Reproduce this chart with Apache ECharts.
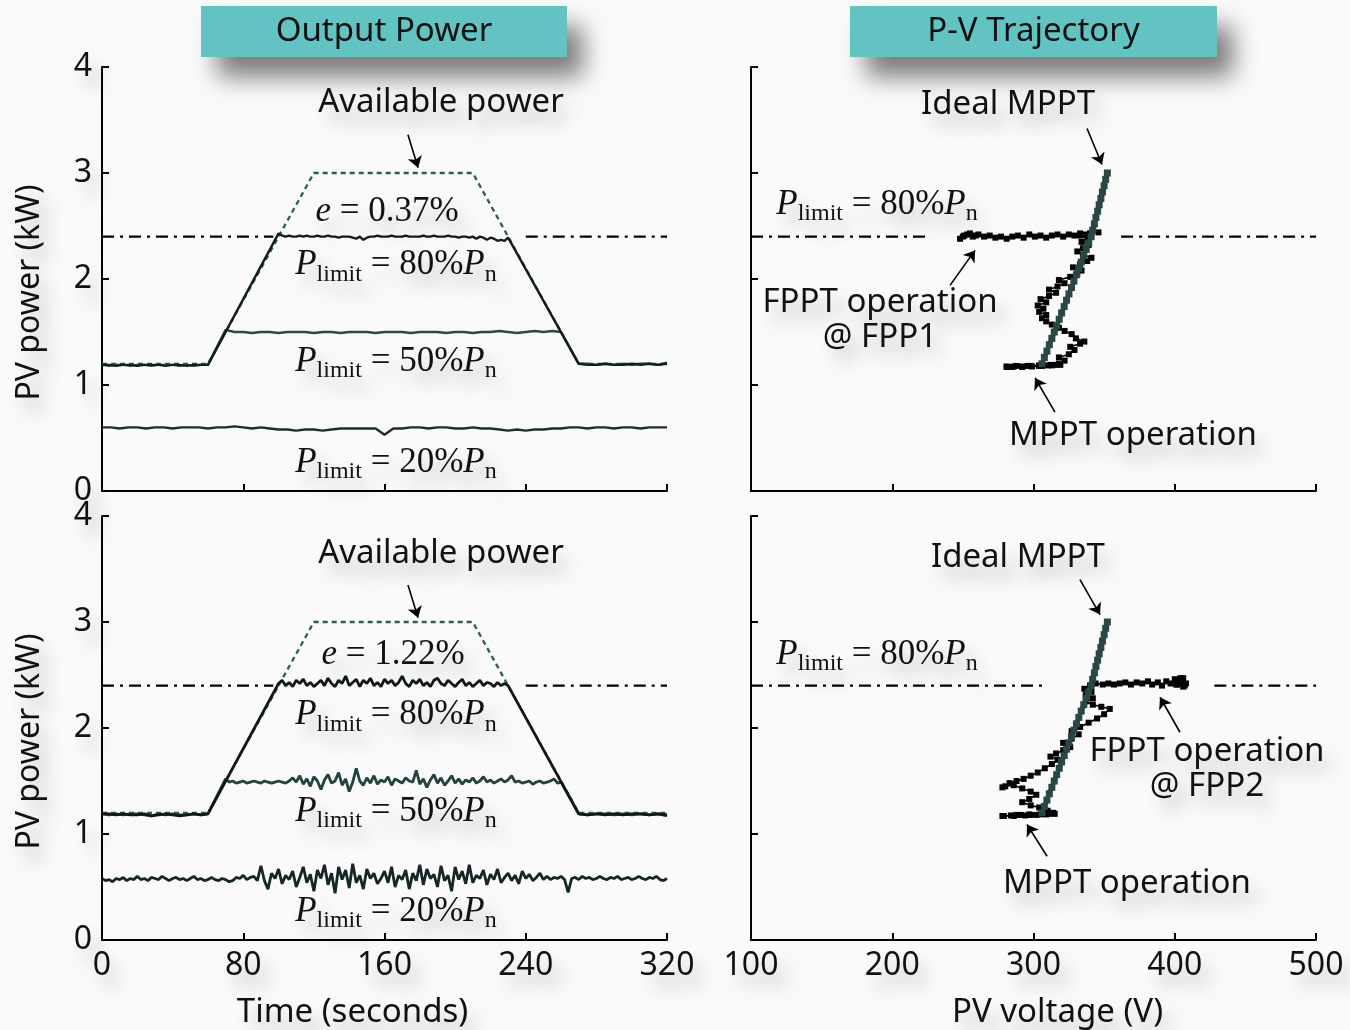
<!DOCTYPE html>
<html><head><meta charset="utf-8">
<script src="https://cdn.jsdelivr.net/npm/echarts@6/dist/echarts.min.js"></script>
<style>html,body{margin:0;padding:0;background:#fafafa}#c{width:1350px;height:1030px}</style>
</head><body><div id="c"></div>
<script>
// ---------------- DATA ----------------
// Available power profile (kW) at key times (s)
const availT = [0, 60, 120, 210, 270, 320];
const availP = [1.2, 1.2, 3.0, 3.0, 1.2, 1.2];
const limitP = 2.4;
// dash-dot limit line visible ranges (x units of each panel)
const limitLeftRanges = [[0, 97], [240, 320]];
const limitTopRightRanges = [[100, 225], [362, 500]];
const limitBotRightRanges = [[100, 308], [428, 500]];

// ---- top-left (e = 0.37%) ----
const top80Pre = [1.19,1.19,1.18,1.19,1.19,1.18,1.19,1.19,1.19,1.18,1.19,1.19,1.18,1.19,1.19,1.19]; // t=0..60 step 4
const top80Plateau = [2.43,2.41,2.40,2.41,2.40,2.40,2.41,2.40,2.41,2.40,
  2.40,2.41,2.40,2.40,2.41,2.40,2.40,2.39,2.40,2.40,
  2.40,2.39,2.38,2.40,2.37,2.39,2.40,2.40,2.41,2.40,
  2.40,2.40,2.41,2.40,2.40,2.40,2.41,2.40,2.40,2.40,
  2.40,2.41,2.40,2.40,2.41,2.40,2.40,2.40,2.41,2.40,
  2.40,2.39,2.40,2.40,2.39,2.40,2.38,2.40,2.39,2.37,
  2.39,2.38,2.36,2.37,2.36,2.39]; // t=100..230 step 2
const top80Post = [1.20,1.19,1.19,1.20,1.19,1.19,1.20,1.19,1.20,1.19,1.20]; // t=270..320 step 5
const top50Pre = [1.19,1.18,1.19,1.19,1.18,1.19,1.19,1.18,1.19,1.19,1.19,1.18,1.19,1.18,1.19,1.19];
const top50Plateau = [1.52,1.50,1.50,1.49,1.50,1.50,1.49,1.50,1.50,1.50,
  1.49,1.50,1.50,1.49,1.50,1.50,1.50,1.49,1.50,1.50,
  1.50,1.49,1.50,1.50,1.50,1.49,1.50,1.50,1.49,1.50,
  1.50,1.51,1.50,1.49,1.50,1.51,1.50,1.51,1.50]; // t=70..260 step 5
const top50Post = [1.20,1.20,1.19,1.20,1.19,1.20,1.19,1.20,1.20,1.19,1.21];
const top20 = [0.60,0.60,0.59,0.60,0.60,0.59,0.60,0.60,0.59,0.60,
  0.60,0.60,0.59,0.60,0.60,0.61,0.60,0.59,0.60,0.59,
  0.58,0.58,0.57,0.58,0.58,0.57,0.58,0.59,0.59,0.59,
  0.59,0.59,0.53,0.59,0.59,0.60,0.60,0.59,0.60,0.60,
  0.59,0.59,0.60,0.59,0.59,0.58,0.57,0.58,0.57,0.58,
  0.58,0.59,0.59,0.60,0.60,0.59,0.60,0.60,0.59,0.60,
  0.60,0.59,0.60,0.60,0.60]; // t=0..320 step 5

// ---- bottom-left (e = 1.22%) ----
const bot80Pre = [1.19,1.19,1.18,1.19,1.18,1.18,1.19,1.17,1.18,1.19,1.18,1.17,1.18,1.19,1.18,1.19];
const bot80Plateau = [2.42,2.45,2.40,2.43,2.39,2.45,2.42,2.46,2.40,2.43,
  2.39,2.42,2.45,2.40,2.47,2.42,2.39,2.45,2.42,2.49,
  2.40,2.43,2.46,2.39,2.45,2.42,2.47,2.40,2.43,2.39,
  2.46,2.42,2.45,2.40,2.43,2.49,2.42,2.39,2.45,2.42,
  2.46,2.40,2.43,2.39,2.45,2.47,2.42,2.40,2.45,2.42,
  2.39,2.43,2.46,2.40,2.43,2.39,2.42,2.45,2.40,2.43,
  2.42,2.39,2.43,2.40,2.42,2.40]; // t=100..230 step 2
const bot80Post = [1.19,1.18,1.19,1.18,1.19,1.18,1.19,1.19,1.18,1.19,1.18];
const bot50Pre = [1.19,1.18,1.19,1.18,1.19,1.19,1.18,1.17,1.19,1.18,1.19,1.18,1.18,1.19,1.18,1.19];
const bot50Plateau = [1.52,1.49,1.50,1.48,1.49,1.50,1.48,1.49,1.50,1.49,1.48,1.50,1.49,1.48,1.49,1.50,1.49,1.48,1.50,1.53,1.49,
  1.55,1.47,1.52,1.45,1.54,1.50,1.42,1.51,1.56,1.48,
  1.50,1.58,1.46,1.52,1.40,1.49,1.62,1.50,1.46,1.53,
  1.48,1.55,1.47,1.51,1.49,1.54,1.46,1.52,1.50,1.48,
  1.53,1.50,1.49,1.60,1.47,1.52,1.44,1.51,1.56,1.48,
  1.53,1.46,1.50,1.55,1.48,
  1.52,1.47,1.51,1.49,1.53,1.48,1.50,1.54,1.49,1.51,
  1.48,1.50,1.52,1.49,1.51,1.55,1.49,1.50,1.48,1.49,
  1.50,1.47,1.49,1.50,1.48,1.49,1.50,1.52,1.48,1.49]; // t=70..260 step 2
const bot50Post = [1.19,1.18,1.19,1.19,1.18,1.19,1.18,1.19,1.18,1.19,1.17];
const bot20 = [0.58,0.56,0.57,0.55,0.58,0.57,0.59,0.56,0.58,0.57,
  0.60,0.57,0.58,0.56,0.59,0.58,0.57,0.60,0.58,0.56,
  0.58,0.59,0.57,0.58,0.56,0.58,0.60,0.57,0.58,0.56,
  0.57,0.59,0.57,0.56,0.58,0.57,0.55,0.56,0.59,0.58,
  0.61,0.57,0.59,0.60,0.56,
  0.70,0.56,0.48,0.63,0.58,0.67,0.53,0.61,0.57,0.65,
  0.50,0.59,0.69,0.54,0.62,0.46,0.66,0.58,0.71,0.52,
  0.63,0.44,0.69,0.57,0.66,0.49,0.72,0.54,0.61,0.48,
  0.67,0.58,0.63,0.53,0.58,0.65,0.54,0.69,0.50,0.61,
  0.57,0.66,0.48,0.63,0.56,0.71,0.52,0.67,0.58,0.62,
  0.50,0.70,0.56,0.61,0.46,0.69,0.57,0.65,0.53,0.71,
  0.54,0.61,0.58,0.66,0.52,0.62,0.57,0.67,0.54,0.59,
  0.63,0.56,0.61,0.53,0.65,0.58,0.62,0.56,0.59,0.63,
  0.57,
  0.60,0.57,0.59,0.58,0.60,0.57,0.45,0.58,0.59,0.57,
  0.60,0.58,0.59,0.57,0.58,0.60,0.58,0.57,0.59,0.58,
  0.60,0.57,0.58,0.59,0.57,0.58,0.60,0.58,0.57,0.59,
  0.58,0.60,0.57,0.56,0.58]; // t=0..320 step 2

// ---- P-V trajectories: [voltage V, power kW] ----
const idealV = [306,307.7,309.5,311.2,313.0,314.7,316.4,318.2,319.9,321.7,323.4,325.1,326.9,328.6,330.4,332.1,333.8,335.6,337.3,339.1,340.8,341.9,343.1,344.2,345.4,346.5,347.7,348.8,350.0,351.1,352.3];
const idealP = [1.20,1.26,1.32,1.38,1.44,1.50,1.56,1.62,1.68,1.74,1.80,1.86,1.92,1.98,2.04,2.10,2.16,2.22,2.28,2.34,2.40,2.46,2.52,2.58,2.64,2.70,2.76,2.82,2.88,2.94,3.00];

const trajTop = [[281,1.17],[286,1.175],[292,1.175],[298,1.18],[304,1.18],[310,1.185],[316,1.19],[319,1.19],[313,1.185],[306,1.18],[299,1.175],[292,1.17],[285,1.17],[281,1.175],[288,1.18],[296,1.18],[304,1.185],[312,1.19],[318,1.20],
  [322,1.23],[318,1.26],[325,1.29],[329,1.33],[326,1.36],[333,1.39],[336,1.41],[330,1.44],[327,1.48],[322,1.51],[318,1.54],[313,1.57],[309,1.60],[306,1.63],[309,1.66],[304,1.69],[307,1.72],[303,1.75],[309,1.78],[305,1.81],[311,1.84],[316,1.87],[311,1.90],[317,1.93],[322,1.96],[318,1.99],[326,2.02],[331,2.05],[334,2.08],[328,2.11],[333,2.14],[338,2.17],[341,2.20],[335,2.23],[331,2.26],[335,2.29],[339,2.32],[334,2.35],[338,2.38],[333,2.41],[340,2.43],[346,2.44],
  [341,2.43],[337,2.42],[333,2.43],[329,2.41],[325,2.42],[321,2.40],[317,2.42],[313,2.41],[309,2.39],[305,2.41],[301,2.40],[297,2.42],[293,2.39],[289,2.41],[285,2.40],[281,2.38],[277,2.40],[273,2.39],[269,2.41],[265,2.40],[261,2.42],[257,2.40],[253,2.42],[250,2.40],[248,2.38],[251,2.41],[255,2.43],[259,2.41]];

const trajBot = [[278,1.17],[284,1.175],[291,1.18],[298,1.18],[305,1.185],[311,1.19],[315,1.19],[309,1.185],[302,1.18],[294,1.175],[286,1.17],[279,1.17],[288,1.18],[297,1.185],[306,1.19],[314,1.20],
  [310,1.22],[304,1.25],[298,1.27],[292,1.30],[297,1.33],[302,1.37],[298,1.40],[292,1.43],[286,1.46],[280,1.45],[278,1.44],[283,1.48],[288,1.50],[293,1.52],[298,1.55],[303,1.58],[308,1.62],[313,1.66],[317,1.70],[312,1.73],[316,1.76],[321,1.79],[326,1.82],[321,1.86],[327,1.90],[332,1.94],[327,1.97],[333,2.01],[339,2.05],[345,2.09],[350,2.13],[354,2.18],[348,2.20],[342,2.22],[337,2.25],[342,2.28],[337,2.31],[341,2.34],[336,2.37],[340,2.40],[344,2.42],
  [349,2.41],[353,2.42],[357,2.41],[361,2.42],[365,2.43],[369,2.41],[373,2.43],[377,2.42],[381,2.44],[384,2.41],[388,2.43],[391,2.40],[394,2.44],[397,2.42],[400,2.46],[402,2.41],[404,2.44],[406,2.47],[408,2.42],[406,2.39],[404,2.45],[401,2.41],[404,2.47],[407,2.40],[405,2.45],[402,2.42]];

// ---------------- BUILD ----------------
function seg(t0, dt, vals) { return vals.map((v, i) => [t0 + i * dt, v]); }
function zip(a, b) { return a.map((v, i) => [v, b[i]]); }

const top80 = seg(0,4,top80Pre).concat(seg(100,2,top80Plateau), seg(270,5,top80Post));
const top50 = seg(0,4,top50Pre).concat(seg(70,5,top50Plateau), seg(270,5,top50Post));
const top20d = seg(0,5,top20);
const bot80 = seg(0,4,bot80Pre).concat(seg(100,2,bot80Plateau), seg(270,5,bot80Post));
const bot50 = seg(0,4,bot50Pre).concat(seg(70,2,bot50Plateau), seg(270,5,bot50Post));
const bot20d = seg(0,2,bot20);
const avail = zip(availT, availP);

const SANS = 'Noto Sans';
const SERIF = 'Liberation Serif';
const INK = '#111';
const TS = {textShadowColor:'rgba(0,0,0,0.26)', textShadowBlur:18, textShadowOffsetX:9, textShadowOffsetY:13};

const grids = [
  {left:102, top:67, width:565, height:424},
  {left:751, top:67, width:565, height:424},
  {left:102, top:516, width:565, height:425},
  {left:751, top:516, width:565, height:425}
];

function xAx(i, min, max, interval, showLabel, name, pad) {
  return {
    type:'value', gridIndex:i, min, max, interval,
    axisLine:{show:true, onZero:false, lineStyle:{color:'#000', width:2}},
    axisTick:{show:true, inside:true, length:7, lineStyle:{color:'#000', width:2}},
    axisLabel:{show:showLabel, color:INK, fontFamily:SANS, fontSize:32, margin:10, ...TS},
    splitLine:{show:false},
    name: name || '', nameLocation:'middle', nameGap:56,
    nameTextStyle:{color:INK, fontFamily:SANS, fontSize:33, padding: pad || 0, ...TS}
  };
}
function yAx(i, showLabel, name) {
  return {
    type:'value', gridIndex:i, min:0, max:4, interval:1,
    axisLine:{show:true, onZero:false, lineStyle:{color:'#000', width:2}},
    axisTick:{show:true, inside:true, length:7, lineStyle:{color:'#000', width:2}},
    axisLabel:{show:showLabel, color:INK, fontFamily:SANS, fontSize:32, margin:10, ...TS},
    splitLine:{show:false},
    name: name || '', nameLocation:'middle', nameGap:56, nameRotate:90,
    nameTextStyle:{color:INK, fontFamily:SANS, fontSize:32, padding:[0,27,0,0], ...TS}
  };
}

function lineS(gi, data, color, width, type, extra) {
  return Object.assign({
    type:'line', xAxisIndex:gi, yAxisIndex:gi, data, showSymbol:false, symbol:'none',
    lineStyle:{color, width, type: type || 'solid'}, silent:true, animation:false, z:3
  }, extra || {});
}
function limitSeries(gi, ranges) {
  return ranges.map(r => lineS(gi, [[r[0], limitP], [r[1], limitP]], '#000', 2.3, [12,6,3,6], {z:2}));
}
function arrowSeries(gi, arrows) {
  return {
    type:'line', xAxisIndex:gi, yAxisIndex:gi, data:[], silent:true, animation:false,
    markLine:{
      silent:true, animation:false, symbol:['none','arrow'], symbolSize:11,
      lineStyle:{color:'#000', width:1.6, type:'solid'}, label:{show:false},
      data: arrows.map(a => [{coord:a[0]}, {coord:a[1]}])
    }
  };
}
function trajSeries(gi, data) {
  return {
    type:'line', xAxisIndex:gi, yAxisIndex:gi, data, symbol:'rect', symbolSize:6,
    showSymbol:true, itemStyle:{color:'#000'}, lineStyle:{color:'#000', width:1.6},
    silent:true, animation:false, z:3
  };
}
function idealSeries(gi) {
  return {
    type:'line', xAxisIndex:gi, yAxisIndex:gi, data:zip(idealV, idealP), symbol:'rect', symbolSize:7,
    showSymbol:true, itemStyle:{color:'#2a4745'}, lineStyle:{color:'#2a4745', width:4.5},
    silent:true, animation:false, z:4
  };
}

const series = [].concat(
  limitSeries(0, limitLeftRanges),
  [lineS(0, avail, '#2e5a5a', 2.3, [5,4]),
   lineS(0, top20d, '#1b2f2f', 2.4),
   lineS(0, top50, '#2a4a48', 2.4),
   lineS(0, top80, '#141d1d', 2.4),
   arrowSeries(0, [[[173.3,3.36],[179,3.05]]])],
  limitSeries(2, limitLeftRanges),
  [lineS(2, avail, '#2e5a5a', 2.3, [5,4]),
   lineS(2, bot20d, '#162626', 2.8),
   lineS(2, bot50, '#24423f', 2.8),
   lineS(2, bot80, '#111818', 2.8),
   arrowSeries(2, [[[173.3,3.35],[179,3.04]]])],
  limitSeries(1, limitTopRightRanges),
  [trajSeries(1, trajTop), idealSeries(1),
   arrowSeries(1, [[[337.9,3.42],[348.5,3.08]], [[240.9,1.94],[258.6,2.27]], [[315.2,0.745],[301.1,1.066]]])],
  limitSeries(3, limitBotRightRanges),
  [trajSeries(3, trajBot), idealSeries(3),
   arrowSeries(3, [[[332.9,3.40],[347.1,3.07]], [[403.7,1.96],[389.6,2.29]], [[309.6,0.79],[295.4,1.09]]])]
);

const chart = echarts.init(document.getElementById('c'), null, {renderer:'canvas'});
chart.setOption({
  backgroundColor:'#fafafa',
  animation:false,
  grid: grids,
  xAxis: [xAx(0,0,320,80,false), xAx(1,100,500,100,false),
          xAx(2,0,320,80,true,'Time (seconds)',[0,64,0,0]), xAx(3,100,500,100,true,'PV voltage (V)',[0,0,0,48])],
  yAxis: [yAx(0,true,'PV power (kW)'), yAx(1,false), yAx(2,true,'PV power (kW)'), yAx(3,false)],
  series
});

// ---------------- ANNOTATIONS ----------------
const rich = {
  P:{fontFamily:SERIF, fontStyle:'italic', fontSize:35, lineHeight:42, verticalAlign:'middle', fill:INK, ...TS},
  t:{fontFamily:SERIF, fontSize:35, lineHeight:42, verticalAlign:'middle', fill:INK, ...TS},
  s:{fontFamily:SERIF, fontSize:24, lineHeight:24, verticalAlign:'bottom', fill:INK, ...TS}
};
function plim(pct) { return '{P|P}{s|limit}{t| = ' + pct + '%}{P|P}{s|n}'; }
const annotations = [
  {g:0, at:[192,3.66], text:'Available power'},
  {g:0, at:[161.4,2.63], math:'{P|e}{t| = 0.37%}'},
  {g:0, at:[166.5,2.13], math:plim(80)},
  {g:0, at:[166.5,1.22], math:plim(50)},
  {g:0, at:[166.5,0.27], math:plim(20)},
  {g:2, at:[192,3.65], text:'Available power'},
  {g:2, at:[164.8,2.69], math:'{P|e}{t| = 1.22%}'},
  {g:2, at:[166.5,2.12], math:plim(80)},
  {g:2, at:[166.5,1.21], math:plim(50)},
  {g:2, at:[166.5,0.27], math:plim(20)},
  {g:1, at:[282,3.65], text:'Ideal MPPT'},
  {g:1, at:[189.2,2.70], math:plim(80)},
  {g:1, at:[191.3,1.61], text:'FPPT operation\n@ FPP1'},
  {g:1, at:[370.4,0.52], text:'MPPT operation'},
  {g:3, at:[289,3.61], text:'Ideal MPPT'},
  {g:3, at:[189.2,2.69], math:plim(80)},
  {g:3, at:[422.8,1.61], text:'FPPT operation\n@ FPP2'},
  {g:3, at:[366.2,0.53], text:'MPPT operation'}
];

const graphic = [];
[[201,6,366,51,'Output Power'],[850,6,367,51,'P-V Trajectory']].forEach(b => {
  graphic.push({type:'rect', shape:{x:b[0], y:b[1], width:b[2], height:b[3]}, z:10,
    style:{fill:'#63c3c2', shadowBlur:24, shadowColor:'rgba(0,0,0,0.5)', shadowOffsetX:16, shadowOffsetY:20}});
  graphic.push({type:'text', x:b[0]+b[2]/2, y:b[1]+b[3]/2, z:11,
    style:{text:b[4], align:'center', verticalAlign:'middle', font:'33px "' + SANS + '"', fill:INK}});
});
annotations.forEach(a => {
  const p = chart.convertToPixel({gridIndex:a.g}, a.at);
  if (a.math) {
    graphic.push({type:'text', x:p[0], y:p[1], z:12,
      style:{text:a.math, rich, align:'center', verticalAlign:'middle', fill:INK}});
  } else {
    graphic.push({type:'text', x:p[0], y:p[1], z:12,
      style:Object.assign({text:a.text, align:'center', verticalAlign:'middle', font:'33px "' + SANS + '"', lineHeight:35, fill:INK}, TS)});
  }
});
chart.setOption({graphic});
</script></body></html>
